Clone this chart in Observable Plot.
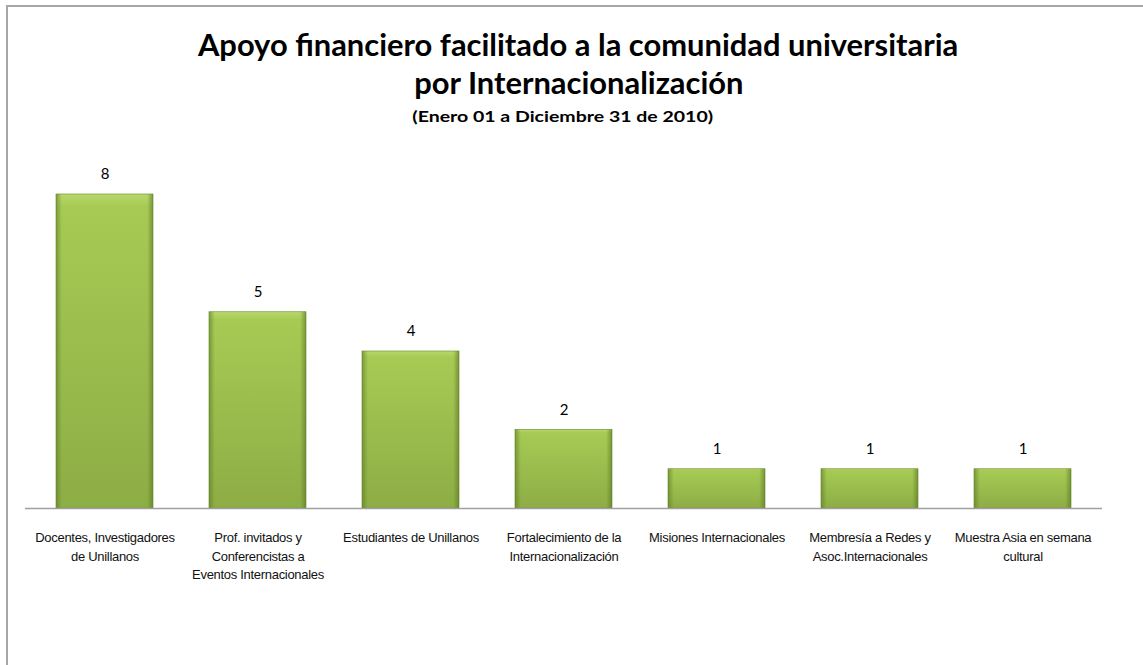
<!DOCTYPE html>
<html>
<head>
<meta charset="utf-8">
<script src="https://cdn.jsdelivr.net/npm/d3@7"></script>
<script src="https://cdn.jsdelivr.net/npm/@observablehq/plot@0.6"></script>
<style>
  html, body { margin: 0; padding: 0; background: #fff; }
  #wrap { position: relative; width: 1143px; height: 665px; overflow: hidden; }
  #frame { position: absolute; left: 6px; top: 5px; width: 1200px; height: 700px;
           border-left: 2px solid #a6a6a6; border-top: 2px solid #a6a6a6; box-sizing: border-box; }
  .t { position: absolute; left: 7px; width: 1143px; text-align: center; font-family: Lato, "Open Sans", sans-serif;
       font-weight: bold; color: #000; white-space: nowrap; }
  .t span { display: inline-block; transform-origin: center; }
  #t1 { top: 26px; font-size: 30px; }
  #t1 span { transform: scaleX(1.03); }
  #t2 { top: 64px; font-size: 30px; }
  #t2 span { transform: scaleX(1.03); }
  #t3 { top: 107px; font-size: 15px; left: -9px; }
  #t3 span { transform: scaleX(1.3); }
  #chart { position: absolute; left: 0; top: 0; }
</style>
</head>
<body>
<div id="wrap">
  <div id="frame"></div>
  <div id="chart"></div>
  <div class="t" id="t1"><span>Apoyo financiero facilitado a la comunidad universitaria</span></div>
  <div class="t" id="t2"><span>por Internacionalización</span></div>
  <div class="t" id="t3"><span>(Enero 01 a Diciembre 31 de 2010)</span></div>
</div>
<script>
const categories = [
  "Docentes, Investigadores\nde Unillanos",
  "Prof. invitados y\nConferencistas a\nEventos Internacionales",
  "Estudiantes de Unillanos",
  "Fortalecimiento de la\nInternacionalización",
  "Misiones Internacionales",
  "Membresía a Redes y\nAsoc.Internacionales",
  "Muestra Asia en semana\ncultural"
];
const values = [8, 5, 4, 2, 1, 1, 1];

const data = categories.map((c, i) => ({category: c, value: values[i]}));

const plot = Plot.plot({
  width: 1143,
  height: 665,
  marginTop: 194,
  marginBottom: 157,
  marginLeft: 25,
  marginRight: 41,
  style: {background: "transparent", fontFamily: "'Liberation Sans', Arial, sans-serif"},
  x: {domain: categories, paddingInner: 0.367, paddingOuter: 0.196, label: null},
  y: {domain: [0, 8], axis: null, label: null},
  marks: [
    Plot.barY(data, {x: "category", y: "value", fill: "url(#gv)", stroke: "#76963a", strokeWidth: 0.7}),
    Plot.barY(data, {x: "category", y: "value", fill: "url(#gh)"}),
    Plot.ruleY([0], {stroke: "#a0a0a0", strokeWidth: 1.5}),
    Plot.text(data, {x: "category", y: "value", text: d => String(d.value), dy: -20,
      fontSize: 15, fill: "#000", fontFamily: "Lato, 'Open Sans', sans-serif"}),
    Plot.axisX({tickSize: 0, tickPadding: 21, fontSize: 13, lineHeight: 1.4, fill: "#111",
      textAnchor: "middle", label: null})
  ]
});

const svg = d3.select(plot);
svg.selectAll('[aria-label="x-axis tick label"] text').style("letter-spacing", "-0.3px");
const defs = svg.insert("defs", ":first-child");
const gv = defs.append("linearGradient").attr("id", "gv").attr("x1", 0).attr("y1", 0).attr("x2", 0).attr("y2", 1);
gv.append("stop").attr("offset", "0%").attr("stop-color", "#b8d86c");
gv.append("stop").attr("offset", "4%").attr("stop-color", "#a7ca54");
gv.append("stop").attr("offset", "100%").attr("stop-color", "#8dad45");
const gh = defs.append("linearGradient").attr("id", "gh").attr("x1", 0).attr("y1", 0).attr("x2", 1).attr("y2", 0);
gh.append("stop").attr("offset", "0%").attr("stop-color", "#5a7826").attr("stop-opacity", 0.6);
gh.append("stop").attr("offset", "6%").attr("stop-color", "#5a7826").attr("stop-opacity", 0.0);
gh.append("stop").attr("offset", "94%").attr("stop-color", "#5a7826").attr("stop-opacity", 0.0);
gh.append("stop").attr("offset", "100%").attr("stop-color", "#5a7826").attr("stop-opacity", 0.65);

document.getElementById("chart").appendChild(plot);
</script>
</body>
</html>
